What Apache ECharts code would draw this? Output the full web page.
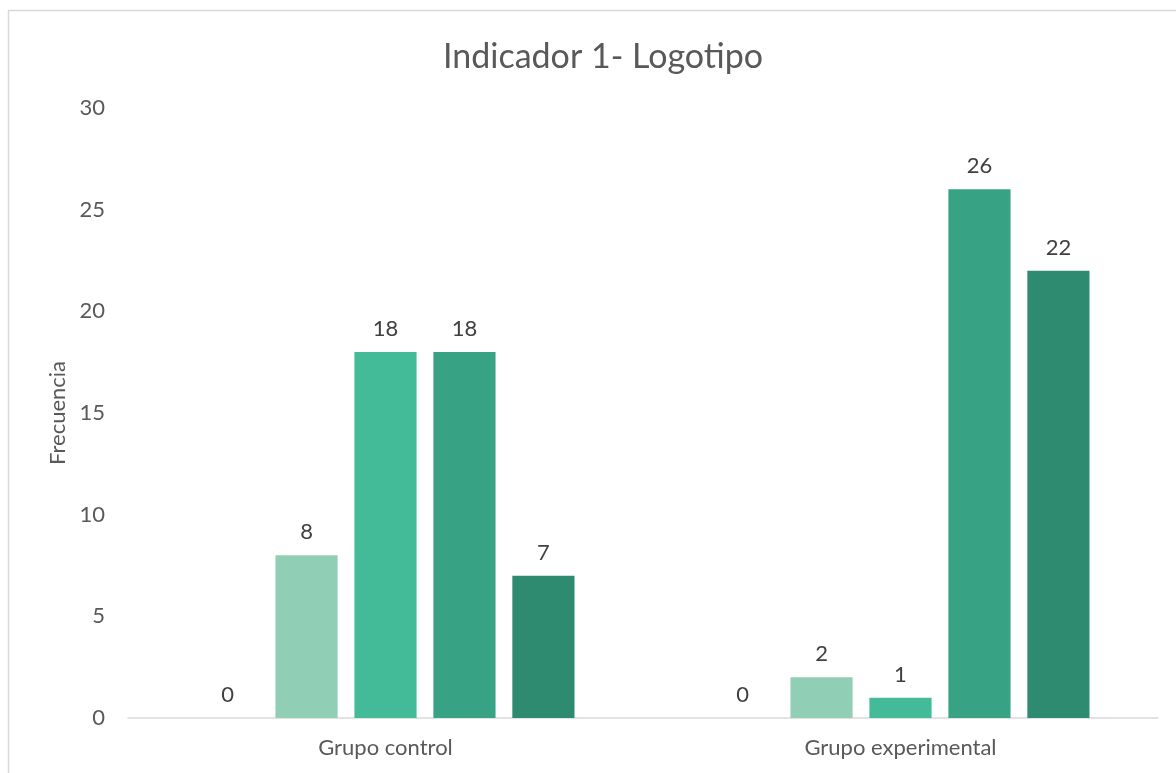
<!DOCTYPE html>
<html>
<head>
<meta charset="utf-8">
<script src="https://cdn.jsdelivr.net/npm/echarts@6/dist/echarts.min.js"></script>
<style>
html,body{margin:0;padding:0;background:#fff;}
#chart{width:1176px;height:773px;}
</style>
</head>
<body>
<div id="chart"></div>
<script>
var categories = ['Grupo control', 'Grupo experimental'];
var seriesNames = ['Nivel 1', 'Nivel 2', 'Nivel 3', 'Nivel 4', 'Nivel 5'];
var s1 = [0, 0];
var s2 = [8, 2];
var s3 = [18, 1];
var s4 = [18, 26];
var s5 = [7, 22];
var yTicks = [0, 5, 10, 15, 20, 25, 30];
var colors = ['#C3E6D7', '#90CFB5', '#43BB98', '#38A384', '#2E8B70'];
var seriesData = [s1, s2, s3, s4, s5];

var chart = echarts.init(document.getElementById('chart'));
var font = 'Lato';
chart.setOption({
  animation: false,
  title: {
    text: 'Indicador 1- Logotipo',
    left: 438,
    top: 35,
    textStyle: {fontFamily: font, fontSize: 34, fontWeight: 'normal', color: '#595959'}
  },
  graphic: [{
    type: 'rect',
    shape: {x: 8.5, y: 10.5, width: 1300, height: 900},
    style: {fill: 'none', stroke: '#D9D9D9', lineWidth: 1.5},
    silent: true
  }],
  grid: {left: 128, right: 18, top: 108, bottom: 55, containLabel: false},
  xAxis: {
    type: 'category',
    data: categories,
    axisLine: {lineStyle: {color: '#D9D9D9', width: 1.5}},
    axisTick: {show: false},
    axisLabel: {fontFamily: font, fontSize: 22, color: '#595959', margin: 19}
  },
  yAxis: {
    type: 'value',
    min: yTicks[0],
    max: yTicks[yTicks.length - 1],
    interval: 5,
    name: 'Frecuencia',
    nameLocation: 'middle',
    nameGap: 58,
    nameTextStyle: {fontFamily: font, fontSize: 22, color: '#595959'},
    axisLine: {show: false},
    axisTick: {show: false},
    splitLine: {show: false},
    axisLabel: {fontFamily: font, fontSize: 22, color: '#595959', margin: 23}
  },
  series: seriesData.map(function (d, i) {
    return {
      type: 'bar',
      name: seriesNames[i],
      data: d,
      barGap: '27%',
      barCategoryGap: '26.6%',
      itemStyle: {color: colors[i]},
      label: {
        show: true,
        position: 'top',
        distance: 12,
        fontFamily: font,
        fontSize: 22,
        color: '#404040'
      }
    };
  })
});
</script>
</body>
</html>
